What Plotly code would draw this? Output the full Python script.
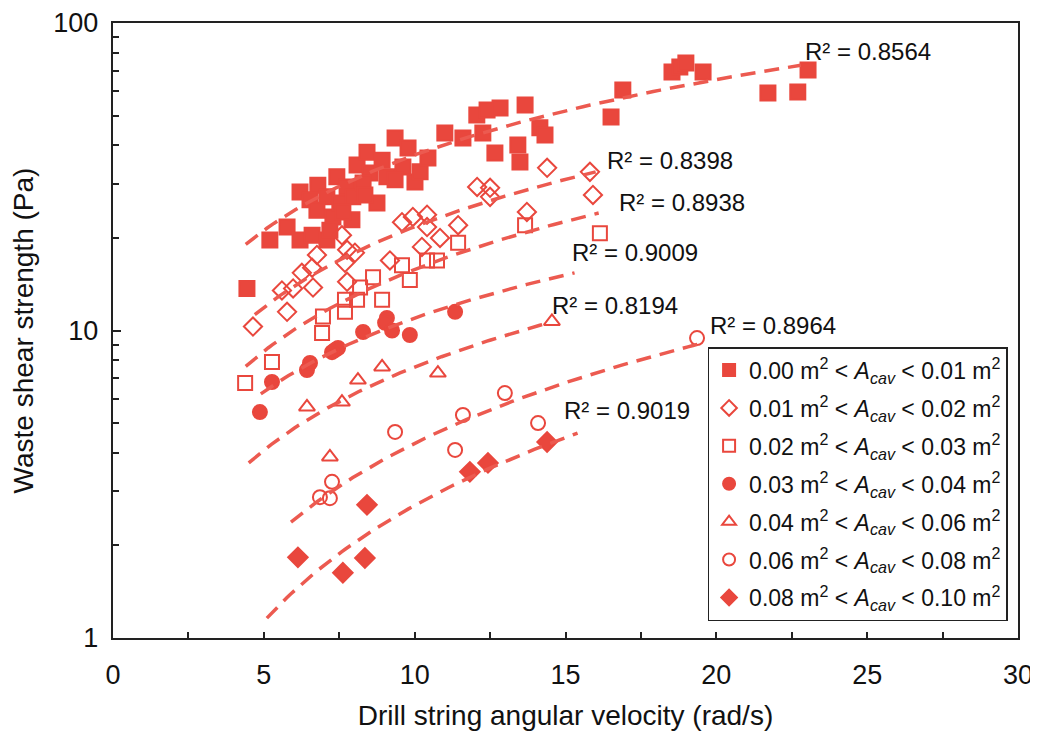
import numpy as np
import plotly.graph_objects as go

# angular velocity (rad/s) and waste shear strength (Pa), one pair per cavity-area class
w1 = [4.44, 5.20, 5.77, 6.20, 6.60, 7.09, 6.20, 6.79, 6.53, 7.09, 6.76, 7.29, 7.52, 7.42,
      7.76, 7.95, 7.92, 8.09, 8.52, 8.42, 8.75, 8.92, 8.29, 9.08, 9.35, 9.61, 9.78, 10.01,
      10.18, 10.44, 11.00, 11.60, 12.06, 12.40, 12.83, 13.66, 12.26, 12.66, 13.42, 13.49,
      14.15, 14.32, 16.51, 16.90, 18.53, 18.79, 18.99, 19.56, 21.71, 22.70, 23.04,
      7.62, 8.35, 7.19, 9.35]
s1 = [13.7, 19.7, 21.7, 19.7, 20.4, 19.7, 28.2, 29.7, 26.6, 27.2, 24.6, 23.4, 26.0, 31.6,
      29.3, 27.2, 22.9, 34.5, 32.5, 38.0, 26.0, 35.8, 30.2, 31.6, 42.3, 34.0, 39.2, 30.4,
      32.8, 36.4, 43.9, 42.3, 50.2, 52.1, 52.9, 54.1, 43.9, 37.8, 40.1, 35.3,
      45.6, 43.2, 49.5, 60.5, 69.3, 71.9, 74.1, 69.3, 59.2, 59.7, 70.3,
      24.3, 27.6, 21.2, 30.9]

w2 = [4.64, 5.77, 5.60, 5.97, 6.26, 6.60, 6.76, 6.63, 7.59, 7.76, 8.02, 7.69, 7.76, 9.18,
      9.58, 9.94, 10.41, 10.41, 10.84, 10.24, 11.44, 12.07, 12.50, 12.50, 13.72, 14.39,
      15.81, 15.91]
s2 = [10.3, 11.5, 13.5, 13.7, 15.4, 16.0, 17.6, 13.8, 20.4, 18.3, 17.9, 16.6, 14.4, 16.9,
      22.5, 23.4, 23.8, 21.7, 20.0, 18.7, 22.0, 29.3, 29.1, 27.2, 24.3, 33.8,
      32.8, 27.6]

w3 = [4.38, 5.27, 6.93, 6.96, 7.69, 7.69, 8.09, 8.19, 8.62, 8.92, 9.58, 9.84, 10.41, 10.74,
      11.44, 13.66, 16.14]
s3 = [6.75, 7.90, 9.82, 11.1, 11.5, 12.6, 12.6, 13.8, 14.9, 12.6, 16.3, 14.6, 16.9, 16.9,
      19.3, 22.0, 20.7]

w4 = [4.87, 5.27, 6.43, 6.53, 7.36, 7.46, 7.26, 8.29, 9.08, 9.02, 9.25, 9.84, 11.34]
s4 = [5.43, 6.80, 7.44, 7.84, 8.64, 8.77, 8.50, 9.89, 10.99, 10.6, 10.0, 9.67, 11.5]

w5 = [6.43, 7.59, 8.12, 8.92, 10.77, 14.55, 7.19]
s5 = [5.64, 5.85, 6.90, 7.61, 7.27, 10.7, 3.88]

w6 = [6.86, 7.19, 7.26, 9.35, 11.34, 11.60, 12.99, 14.09, 19.36]
s6 = [2.87, 2.85, 3.22, 4.68, 4.09, 5.31, 6.26, 5.00, 9.45]

w7 = [6.13, 7.62, 8.35, 8.42, 11.83, 12.43, 14.39]
s7 = [1.83, 1.63, 1.82, 2.71, 3.47, 3.71, 4.34]

labels = ["0.00 m<sup>2</sup> &lt; <i>A<sub>cav</sub></i> &lt; 0.01 m<sup>2</sup>",
          "0.01 m<sup>2</sup> &lt; <i>A<sub>cav</sub></i> &lt; 0.02 m<sup>2</sup>",
          "0.02 m<sup>2</sup> &lt; <i>A<sub>cav</sub></i> &lt; 0.03 m<sup>2</sup>",
          "0.03 m<sup>2</sup> &lt; <i>A<sub>cav</sub></i> &lt; 0.04 m<sup>2</sup>",
          "0.04 m<sup>2</sup> &lt; <i>A<sub>cav</sub></i> &lt; 0.06 m<sup>2</sup>",
          "0.06 m<sup>2</sup> &lt; <i>A<sub>cav</sub></i> &lt; 0.08 m<sup>2</sup>",
          "0.08 m<sup>2</sup> &lt; <i>A<sub>cav</sub></i> &lt; 0.10 m<sup>2</sup>"]
symbols = ["square", "diamond-open", "square-open", "circle", "triangle-up-open",
           "circle-open", "diamond"]

# power trendlines y = a * x^b as drawn on the chart, their x span, and printed R²
trend_a = [5.7, 2.915, 2.06, 1.756, 0.958, 0.326, 0.1504]
trend_b = [0.815, 0.873, 0.885, 0.796, 0.90, 1.12, 1.254]
trend_x0 = [4.4, 4.7, 4.4, 4.9, 4.5, 5.9, 5.1]
trend_x1 = [22.8, 16.0, 16.1, 15.3, 14.4, 19.4, 15.4]
r2_text = ["0.8564", "0.8398", "0.8938", "0.9009", "0.8194", "0.8964", "0.9019"]
r2_x = [22.87, 16.31, 16.71, 15.15, 14.48, 19.72, 14.88]
r2_y = [80.5, 35.8, 26.0, 17.9, 12.1, 10.4, 5.51]

y_ticks = [1, 10, 100]

xs = [w1, w2, w3, w4, w5, w6, w7]
ys = [s1, s2, s3, s4, s5, s6, s7]

RED = "#E9473D"
LINE_RED = "#EC5A50"
FONT = "Liberation Sans"

fig = go.Figure()

for i in range(7):
    fig.add_trace(go.Scatter(
        x=xs[i], y=ys[i], mode="markers", name=labels[i],
        legendgroup=str(i),
        marker=dict(symbol=symbols[i], size=14 if i not in (0, 6) else 15,
                    color=RED, line=dict(width=2, color=RED))
    ))

for i in range(7):
    tx = np.linspace(trend_x0[i], trend_x1[i], 80)
    fig.add_trace(go.Scatter(
        x=tx, y=trend_a[i] * tx ** trend_b[i], mode="lines", showlegend=False,
        hoverinfo="skip",
        line=dict(color=LINE_RED, width=3.5, dash="15px,9px")
    ))

for i in range(7):
    fig.add_annotation(x=r2_x[i], y=np.log10(r2_y[i]), xref="x", yref="y",
                       text="R² = " + r2_text[i], showarrow=False,
                       xanchor="left", yanchor="middle",
                       font=dict(family=FONT, size=24, color="#111"))

minor_y = [v * d for d in (1, 10) for v in range(2, 10)]

fig.update_xaxes(
    range=[0, 30], dtick=5, tick0=0, ticks="inside", ticklen=6, tickwidth=1.5,
    tickcolor="#222", showline=True, linecolor="#222", linewidth=1.5, mirror=True,
    showgrid=False, zeroline=False, ticklabelstandoff=12, automargin=False,
    minor=dict(dtick=2.5, ticks="inside", ticklen=6, tickcolor="#222", showgrid=False),
    tickfont=dict(family=FONT, size=27, color="#111"),
    title=dict(text="Drill string angular velocity (rad/s)", standoff=16,
               font=dict(family=FONT, size=28, color="#111"))
)
fig.update_yaxes(
    type="log", range=[0, 2], tickvals=y_ticks,
    ticktext=[f"{v}\u00a0" for v in y_ticks],
    ticks="inside", ticklen=8, tickwidth=1.5, tickcolor="#222",
    showline=True, linecolor="#222", linewidth=1.5, mirror=True,
    showgrid=False, zeroline=False, automargin=False,
    minor=dict(tickvals=minor_y, ticks="inside", ticklen=6, tickcolor="#222", showgrid=False),
    tickfont=dict(family=FONT, size=27, color="#111"),
    title=dict(text="Waste shear strength (Pa)", standoff=12,
               font=dict(family=FONT, size=28, color="#111"))
)

# the page body adds an 8px offset, so the figure is sized to end at the window edge
fig.update_layout(
    width=1030, height=725,
    margin=dict(l=105, r=20, t=15, b=95),
    paper_bgcolor="white", plot_bgcolor="white",
    legend=dict(x=0.657, y=0.473, xanchor="left", yanchor="top",
                bordercolor="#222", borderwidth=1.5, bgcolor="white",
                tracegroupgap=5, traceorder="grouped", itemsizing="constant",
                font=dict(family=FONT, size=23, color="#111")),
)

fig.write_html("out.html")
